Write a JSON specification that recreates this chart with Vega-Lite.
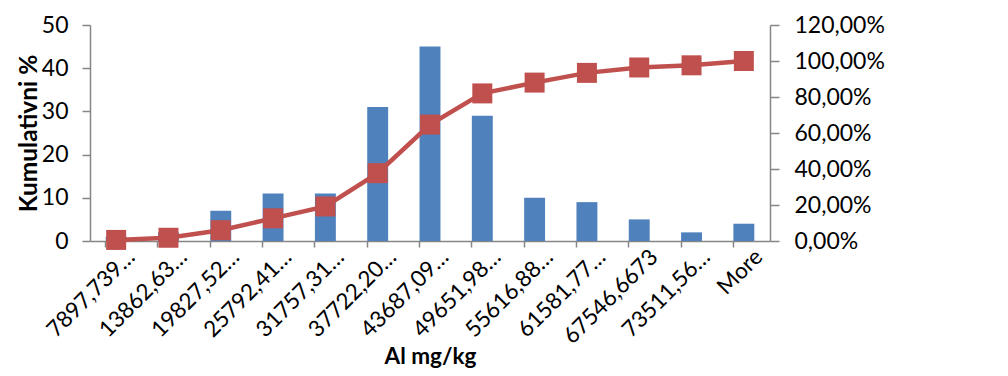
{
  "$schema": "https://vega.github.io/schema/vega-lite/v6.json",
  "width": 680,
  "height": 216,
  "autosize": {"type": "none"},
  "padding": {"left": 90, "top": 25, "right": 238, "bottom": 135},
  "background": "white",
  "config": {
    "font": "Lato",
    "view": {"stroke": null},
    "axis": {
      "domainColor": "#868686",
      "tickColor": "#868686",
      "domainWidth": 1.5,
      "tickWidth": 1.5,
      "labelColor": "black",
      "titleColor": "black",
      "labelFont": "Lato",
      "titleFont": "Lato",
      "labelFontSize": 23,
      "titleFontSize": 22.5,
      "titleFontWeight": "bold",
      "grid": false
    }
  },
  "data": {
    "values": [
      {"bin": "7897,739…", "count": 1, "cum": 0.006},
      {"bin": "13862,63…", "count": 2, "cum": 0.018},
      {"bin": "19827,52…", "count": 7, "cum": 0.06},
      {"bin": "25792,41…", "count": 11, "cum": 0.126},
      {"bin": "31757,31…", "count": 11, "cum": 0.192},
      {"bin": "37722,20…", "count": 31, "cum": 0.377},
      {"bin": "43687,09…", "count": 45, "cum": 0.647},
      {"bin": "49651,98…", "count": 29, "cum": 0.82},
      {"bin": "55616,88…", "count": 10, "cum": 0.88},
      {"bin": "61581,77…", "count": 9, "cum": 0.934},
      {"bin": "67546,6673", "count": 5, "cum": 0.964},
      {"bin": "73511,56…", "count": 2, "cum": 0.976},
      {"bin": "More", "count": 4, "cum": 1.0}
    ]
  },
  "layer": [
    {
      "mark": {"type": "bar", "color": "#4F81BD"},
      "encoding": {
        "x": {
          "field": "bin", "type": "nominal", "sort": null,
          "scale": {"paddingInner": 0.6, "paddingOuter": 0.3},
          "axis": {"orient": "bottom", "labels": false, "title": null, "ticks": true, "tickSize": 6, "bandPosition": 0}
        },
        "y": {
          "field": "count", "type": "quantitative",
          "scale": {"domain": [0, 50], "nice": false},
          "axis": {"title": "Kumulativni %", "titleFontSize": 24.5, "values": [0, 10, 20, 30, 40, 50], "tickSize": 8, "labelPadding": 14, "titlePadding": 0}
        }
      }
    },
    {
      "mark": {"type": "line", "color": "#C0504D", "strokeWidth": 4.5},
      "encoding": {
        "x": {
          "field": "bin", "type": "nominal", "sort": null,
          "axis": {"orient": "bottom", "labelAngle": -45, "labelAlign": "right", "labelBaseline": "middle", "labelFontSize": 22.5, "ticks": false, "domain": false, "labelPadding": 12, "labelOffset": 15, "title": "Al mg/kg", "titlePadding": -2}
        },
        "y": {
          "field": "cum", "type": "quantitative",
          "scale": {"domain": [0, 1.2], "nice": false},
          "axis": {"orient": "right", "title": null, "values": [0, 0.2, 0.4, 0.6, 0.8, 1.0, 1.2], "labelExpr": "replace(format(datum.value, '.2%'), '.', ',')", "tickSize": 9, "labelPadding": 15}
        }
      }
    },
    {
      "mark": {"type": "point", "shape": "square", "filled": true, "size": 400, "color": "#C0504D", "opacity": 1},
      "encoding": {
        "x": {"field": "bin", "type": "nominal", "sort": null, "axis": null},
        "y": {"field": "cum", "type": "quantitative", "scale": {"domain": [0, 1.2], "nice": false}, "axis": null}
      }
    }
  ],
  "resolve": {"scale": {"y": "independent"}, "axis": {"x": "independent"}}
}
